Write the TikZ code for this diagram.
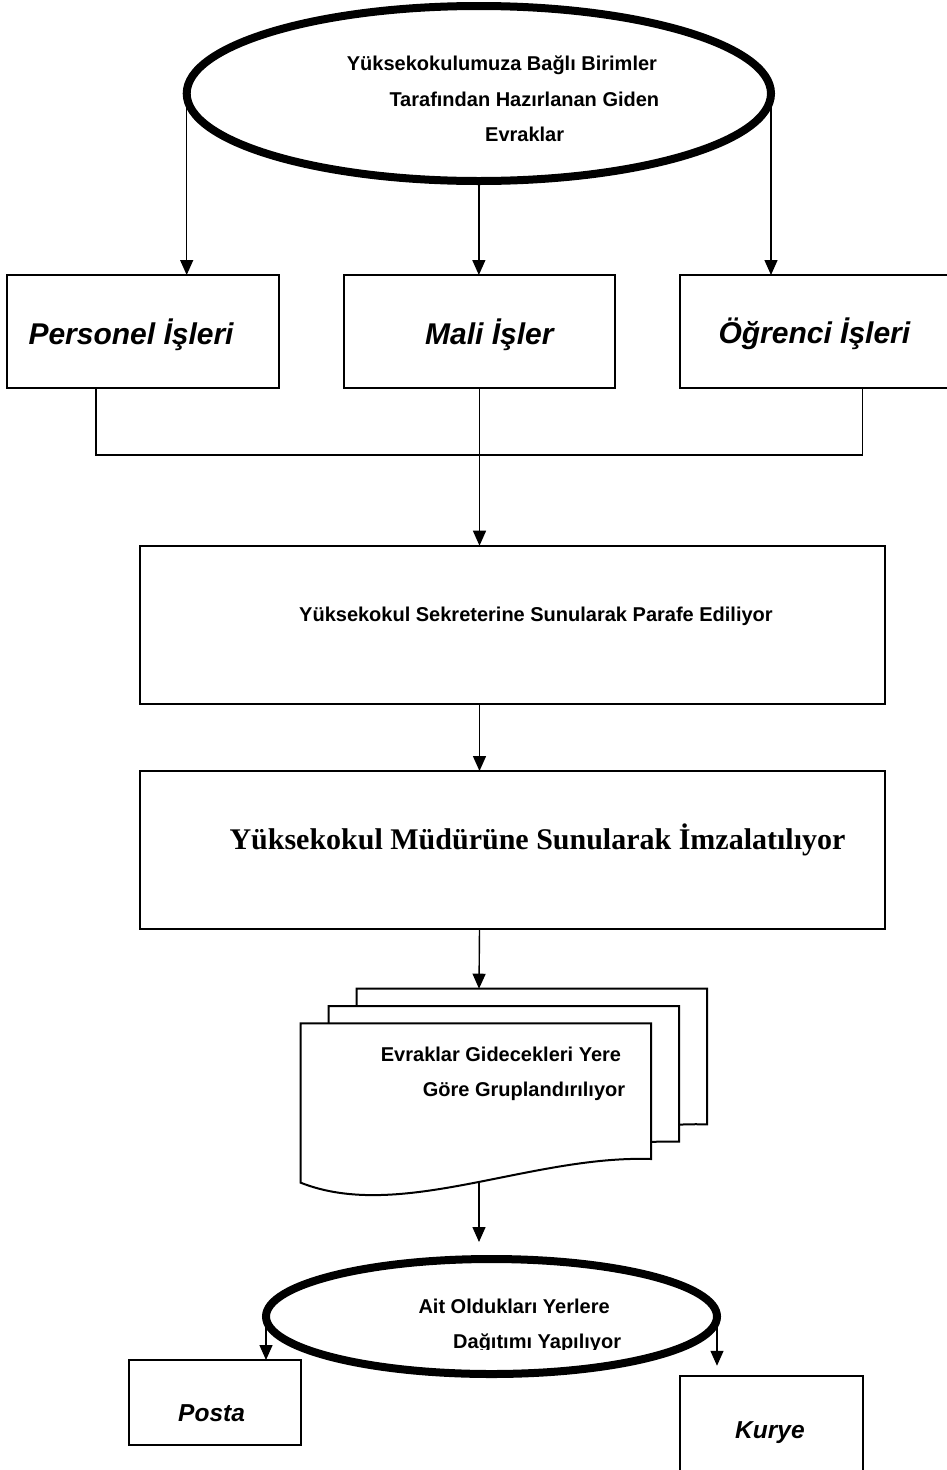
\documentclass[tikz,border=0pt]{standalone}
\usepackage{fontspec}
\setmainfont{Liberation Sans}
\newfontfamily\serifbold{Liberation Serif}
\usetikzlibrary{shapes.geometric,arrows.meta}
\tikzset{
  box/.style={draw, line width=2pt, inner sep=0pt, outer sep=0pt, fill=white},
  oval/.style={draw, ellipse, line width=8pt, inner sep=0pt, outer sep=0pt},
  conn/.style={line width=1.4pt},
  arr/.style={conn, -{Triangle[width=13pt,length=15pt]}},
  txt/.style={anchor=base west, inner sep=0pt, font=\bfseries\fontsize{20}{24}\selectfont},
  big/.style={anchor=base west, inner sep=0pt, font=\bfseries\itshape\fontsize{30}{36}\selectfont},
  small/.style={anchor=base west, inner sep=0pt, font=\bfseries\itshape\fontsize{24.5}{29}\selectfont},
  sheet/.style={draw, line width=2pt, fill=white},
}
\begin{document}
\begin{tikzpicture}[x=1pt,y=-1pt]
\useasboundingbox (0,0) rectangle (947,1470);
\fill[white] (0,0) rectangle (947,1470);
% top ellipse
\node[oval, minimum width=584.3pt, minimum height=175pt] (src) at (478.85,93.5) {};
\node[txt] (src1) at (346.7,70.7) {Yüksekokulumuza Bağlı Birimler};
\node[txt] (src2) at (389.3,106) {Tarafından Hazırlanan Giden};
\node[txt] (src3) at (485,141.5) {Evraklar};
% three units
\node[box, minimum width=271.4pt, minimum height=112.7pt] (pers) at (143,331.35) {};
\node[box, minimum width=271.4pt, minimum height=112.7pt] (mali) at (479.5,331.35) {};
\node[box, minimum width=300pt, minimum height=112.7pt] (ogr) at (830,331.35) {};
\node[big] (perst) at (28.3,344) {Personel İşleri};
\node[big] (malit) at (425,344) {Mali İşler};
\node[big] (ogrt) at (718.3,343.5) {Öğrenci İşleri};
\draw[arr] (src.west) -- (src.west |- pers.north);
\draw[arr] (src.south) -- (src.south |- mali.north);
\draw[arr] (src.east) -- (src.east |- ogr.north);
\draw[conn] ([xshift=-47pt]pers.south) -- ++(0,67.3) -| ([xshift=32.7pt]ogr.south);
% secretary
\node[box, minimum width=745pt, minimum height=158.3pt] (sek) at (512.5,624.85) {};
\node[txt] (sekt) at (299,621.7) {Yüksekokul Sekreterine Sunularak Parafe Ediliyor};
\draw[arr] (mali.south) -- (mali.south |- sek.north);
% director
\node[box, minimum width=745pt, minimum height=158.3pt] (mud) at (512.5,850.15) {};
\node[anchor=base west, inner sep=0pt, font=\serifbold\bfseries\fontsize{30}{36}\selectfont] (mudt) at (229.3,849.3) {Yüksekokul Müdürüne Sunularak İmzalatılıyor};
\draw[arr] (mali.south |- sek.south) -- (mali.south |- mud.north);
% multi document
\foreach \s in {2,1,0} {
  \draw[sheet, shift={(300.7+28*\s,1023.3-17.3*\s)}] (0,0) -- (350.3,0) -- (350.3,135.7)
    .. controls (229.3,131.7) and (99.3,198.7) .. (0,159.4) -- cycle;
}
\coordinate (doctop) at (479,988.7);
\coordinate (docbot) at (479,1183);
\node[txt] (doc1) at (380.7,1061.7) {Evraklar Gidecekleri Yere};
\node[txt] (doc2) at (422.7,1096.7) {Göre Gruplandırılıyor};
\draw[arr] (mali.south |- mud.south) -- (doctop);
% distribution ellipse
\node[oval, minimum width=451pt, minimum height=115pt] (dist) at (491.5,1316.5) {};
\node[txt] (dist1) at (418.3,1313) {Ait Oldukları Yerlere};
\begin{scope}
  \clip (300,1320) rectangle (700,1349.5);
  \node[txt] (dist2) at (453,1348) {Dağıtımı Yapılıyor};
\end{scope}
\draw[arr, shorten >=17pt] (docbot) -- (docbot |- dist.north);
% outputs
\node[box, minimum width=171.7pt, minimum height=85pt] (posta) at (215.15,1402.5) {};
\node[box, minimum width=182.7pt, minimum height=105.5pt] (kurye) at (771.35,1428.5) {};
\node[small] (postat) at (178,1421.7) {Posta};
\node[small] (kuryet) at (735,1438.3) {Kurye};
\draw[arr] (dist.west) -- (dist.west |- posta.north);
\draw[arr, shorten >=10pt] (dist.east) -- (dist.east |- kurye.north);
\end{tikzpicture}
\end{document}
